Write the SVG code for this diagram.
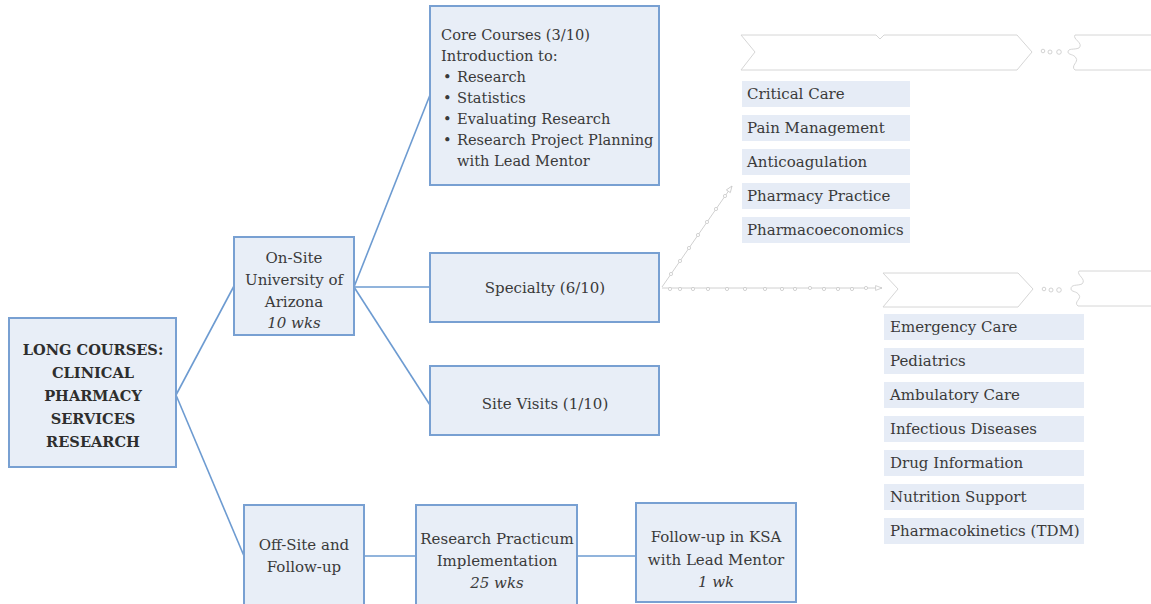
<svg xmlns="http://www.w3.org/2000/svg" width="1151" height="604" viewBox="0 0 1151 604">
  <style>
    .box { fill: #e8eef7; stroke: #78a0d2; stroke-width: 2; }
    .item { fill: #e6ecf6; }
    .t { font-family: "DejaVu Serif", "Liberation Serif", serif; font-size: 15px; fill: #3a3a3a; }
    .s { font-size: 14.6px; }
    .c { text-anchor: middle; }
    .b { font-weight: bold; font-size: 14.6px; fill: #2e2e2e; }
    .i { font-style: italic; }
    .li { font-family: "DejaVu Serif", "Liberation Serif", serif; font-size: 15px; fill: #3a3a3a; }
    .conn { fill: none; stroke: #6d9bd1; stroke-width: 1.6; }
    .ghost { fill: #ffffff; stroke: #d6d6d6; stroke-width: 1; }
    .gline { fill: none; stroke: #d0d0d0; stroke-width: 1; }
    .dot { fill: #ffffff; stroke: #c8c8c8; stroke-width: 0.8; }
  </style>
  <defs>
    <marker id="garrow" viewBox="0 0 10 10" refX="9" refY="5" markerWidth="8" markerHeight="8" orient="auto">
      <path d="M1,2 L9,5 L1,8 Z" fill="#ffffff" stroke="#c8c8c8" stroke-width="1"/>
    </marker>
  </defs>

  <rect width="1151" height="604" fill="#ffffff"/>

  <!-- connectors -->
  <g id="connectors">
    <path class="conn" d="M176,395 L234,286"/>
    <path class="conn" d="M176,395 L244,556"/>
    <path class="conn" d="M354,287 L430,95"/>
    <path class="conn" d="M354,287 L430,287"/>
    <path class="conn" d="M354,287 L430,405"/>
    <path class="conn" d="M364,556 L416,556"/>
    <path class="conn" d="M577,556 L636,556"/>
    <!-- faint specialty links -->
    <path class="gline" d="M662,287 L732,186" marker-end="url(#garrow)"/>
    <path class="gline" d="M662,288 L882,288" marker-end="url(#garrow)"/>
    <g class="dot">
      <circle cx="671" cy="274" r="1.6"/><circle cx="680" cy="261" r="1.6"/><circle cx="689" cy="248" r="1.6"/>
      <circle cx="698" cy="235" r="1.6"/><circle cx="707" cy="222" r="1.6"/><circle cx="716" cy="209" r="1.6"/>
      <circle cx="725" cy="196" r="1.6"/>
      <circle cx="670" cy="289" r="1.6"/><circle cx="680" cy="289" r="1.6"/><circle cx="693" cy="289" r="1.6"/>
      <circle cx="708" cy="289" r="1.6"/><circle cx="727" cy="289" r="1.6"/><circle cx="745" cy="289" r="1.6"/>
      <circle cx="765" cy="289" r="1.6"/><circle cx="782" cy="289" r="1.6"/><circle cx="795" cy="289" r="1.6"/>
      <circle cx="810" cy="288" r="1.6"/><circle cx="824" cy="289" r="1.6"/><circle cx="838" cy="289" r="1.6"/>
      <circle cx="852" cy="289" r="1.6"/><circle cx="866" cy="288" r="1.6"/>
    </g>
  </g>

  <!-- root -->
  <g id="root">
    <rect class="box" x="9" y="318" width="167" height="149"/>
    <text class="t c b" x="93" y="355">LONG COURSES:</text>
    <text class="t c b" x="93" y="378">CLINICAL</text>
    <text class="t c b" x="93" y="401">PHARMACY</text>
    <text class="t c b" x="93" y="424">SERVICES</text>
    <text class="t c b" x="93" y="447">RESEARCH</text>
  </g>

  <g id="onsite">
    <rect class="box" x="234" y="237" width="120" height="98"/>
    <text class="t c" x="294" y="263">On-Site</text>
    <text class="t c" x="294" y="285">University of</text>
    <text class="t c" x="294" y="307">Arizona</text>
    <text class="t c i" x="294" y="328">10 wks</text>
  </g>

  <g id="core">
    <rect class="box" x="430" y="6" width="229" height="179"/>
    <text class="t s" x="441" y="40">Core Courses (3/10)</text>
    <text class="t s" x="441" y="61">Introduction to:</text>
    <text class="t s" x="443" y="82">•</text>
    <text class="t s" x="457" y="82">Research</text>
    <text class="t s" x="443" y="103">•</text>
    <text class="t s" x="457" y="103">Statistics</text>
    <text class="t s" x="443" y="124">•</text>
    <text class="t s" x="457" y="124">Evaluating Research</text>
    <text class="t s" x="443" y="145">•</text>
    <text class="t s" x="457" y="145">Research Project Planning</text>
    <text class="t s" x="457" y="166">with Lead Mentor</text>
  </g>

  <g id="specialty">
    <rect class="box" x="430" y="253" width="229" height="69"/>
    <text class="t c" x="545" y="293">Specialty (6/10)</text>
  </g>

  <g id="sitevisits">
    <rect class="box" x="430" y="366" width="229" height="69"/>
    <text class="t c" x="545" y="409">Site Visits (1/10)</text>
  </g>

  <g id="offsite">
    <rect class="box" x="244" y="505" width="120" height="104"/>
    <text class="t c" x="304" y="550">Off-Site and</text>
    <text class="t c" x="304" y="572">Follow-up</text>
  </g>

  <g id="practicum">
    <rect class="box" x="416" y="505" width="161" height="104"/>
    <text class="t c" x="497" y="544">Research Practicum</text>
    <text class="t c" x="497" y="566">Implementation</text>
    <text class="t c i" x="497" y="588">25 wks</text>
  </g>

  <g id="followup">
    <rect class="box" x="636" y="503" width="160" height="99"/>
    <text class="t c" x="716" y="542">Follow-up in KSA</text>
    <text class="t c" x="716" y="565">with Lead Mentor</text>
    <text class="t c i" x="716" y="587">1 wk</text>
  </g>

  <!-- faint chevron strips -->
  <g id="strip-top">
    <path class="ghost" d="M741,35 L876,35 L880,39 L884,35 L1017,35 L1032,52 L1017,70 L741,70 L755,52 Z"/>
    <circle class="dot" cx="1043" cy="51" r="1.8"/>
    <circle class="dot" cx="1050" cy="52" r="2"/>
    <circle class="dot" cx="1059" cy="52" r="2.3"/>
    <path class="ghost" d="M1160,35 L1075,35 C1072,39 1084,43 1079,48 C1074,50 1068,48 1068,52 C1068,55 1074,54 1076,58 C1079,62 1070,66 1075,70 L1160,70"/>
  </g>

  <g id="strip-bottom">
    <path class="ghost" d="M883,273 L1018,273 L1033,289 L1018,307 L883,307 L898,289 Z"/>
    <circle class="dot" cx="1044" cy="289" r="1.8"/>
    <circle class="dot" cx="1051" cy="290" r="2"/>
    <circle class="dot" cx="1059" cy="290" r="2.3"/>
    <path class="ghost" d="M1160,271 L1079,271 C1076,275 1087,279 1082,284 C1077,286 1071,284 1071,289 C1071,292 1077,291 1079,295 C1082,299 1073,302 1078,306 L1160,306"/>
  </g>

  <!-- specialty options -->
  <g id="list-a">
    <rect class="item" x="742" y="81" width="168" height="26"/>
    <text class="li" x="747" y="99">Critical Care</text>
    <rect class="item" x="742" y="115" width="168" height="26"/>
    <text class="li" x="747" y="133">Pain Management</text>
    <rect class="item" x="742" y="149" width="168" height="26"/>
    <text class="li" x="747" y="167">Anticoagulation</text>
    <rect class="item" x="742" y="183" width="168" height="26"/>
    <text class="li" x="747" y="201">Pharmacy Practice</text>
    <rect class="item" x="742" y="217" width="168" height="26"/>
    <text class="li" x="747" y="235">Pharmacoeconomics</text>
  </g>

  <g id="list-b">
    <rect class="item" x="884" y="314" width="200" height="26"/>
    <text class="li" x="890" y="332">Emergency Care</text>
    <rect class="item" x="884" y="348" width="200" height="26"/>
    <text class="li" x="890" y="366">Pediatrics</text>
    <rect class="item" x="884" y="382" width="200" height="26"/>
    <text class="li" x="890" y="400">Ambulatory Care</text>
    <rect class="item" x="884" y="416" width="200" height="26"/>
    <text class="li" x="890" y="434">Infectious Diseases</text>
    <rect class="item" x="884" y="450" width="200" height="26"/>
    <text class="li" x="890" y="468">Drug Information</text>
    <rect class="item" x="884" y="484" width="200" height="26"/>
    <text class="li" x="890" y="502">Nutrition Support</text>
    <rect class="item" x="884" y="518" width="200" height="26"/>
    <text class="li" x="890" y="536">Pharmacokinetics (TDM)</text>
  </g>
</svg>
